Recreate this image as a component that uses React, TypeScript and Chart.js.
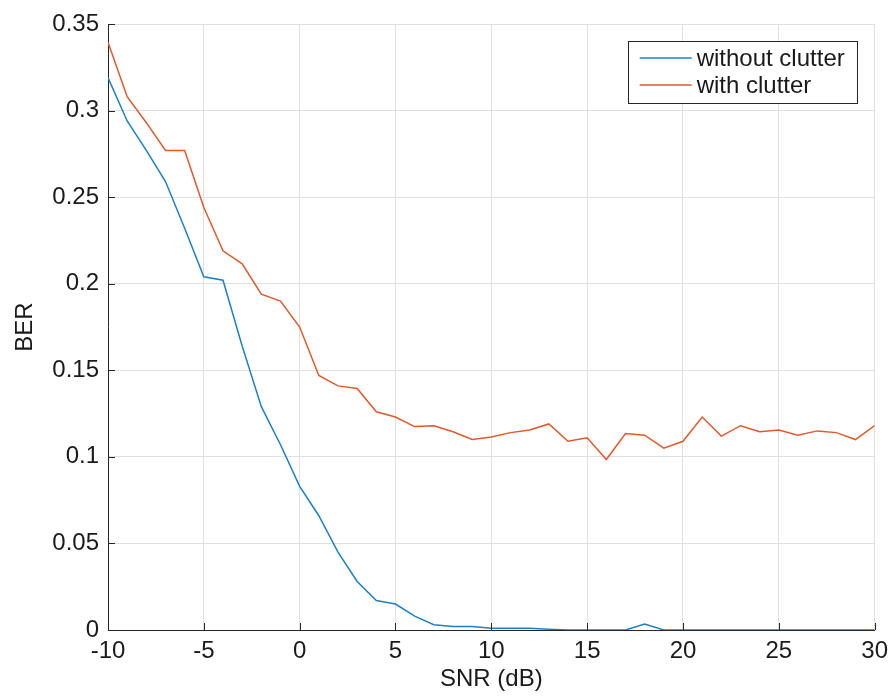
import { useEffect, useRef } from "react";
import { Chart, registerables } from "chart.js";

Chart.register(...registerables);

const snrDb = [
  -10, -9, -8, -7, -6, -5, -4, -3, -2, -1, 0, 1, 2, 3, 4, 5, 6, 7, 8, 9, 10,
  11, 12, 13, 14, 15, 16, 17, 18, 19, 20, 21, 22, 23, 24, 25, 26, 27, 28, 29, 30,
];

const berWithoutClutter = [
  0.319, 0.294, 0.277, 0.259, 0.232, 0.204, 0.202, 0.164, 0.129, 0.107, 0.083,
  0.066, 0.045, 0.028, 0.017, 0.015, 0.008, 0.003, 0.002, 0.002, 0.001,
  0.001, 0.001, 0.0005, 0, 0, 0, 0, 0.0035, 0, 0, 0, 0, 0, 0, 0, 0, 0, 0, 0, 0,
];

const berWithClutter = [
  0.3395, 0.308, 0.293, 0.277, 0.277, 0.244, 0.219, 0.2115, 0.194, 0.19, 0.175,
  0.147, 0.141, 0.1395, 0.126, 0.123, 0.1175, 0.118, 0.1145, 0.11, 0.1115,
  0.114, 0.1155, 0.119, 0.109, 0.111, 0.0985, 0.1135, 0.1125, 0.105, 0.109,
  0.123, 0.112, 0.118, 0.1145, 0.1155, 0.1125, 0.115, 0.114, 0.11, 0.118,
];

const seriesLabels = ["without clutter", "with clutter"];
const seriesColors = ["#1f7fc6", "#dc5a2c"];

const xTicks = [-10, -5, 0, 5, 10, 15, 20, 25, 30];
const yTicks = [0, 0.05, 0.1, 0.15, 0.2, 0.25, 0.3, 0.35];
const yTickLabels = ["0", "0.05", "0.1", "0.15", "0.2", "0.25", "0.3", "0.35"];

const xTitle = "SNR (dB)";
const yTitle = "BER";

const FONT = "'Liberation Sans', Arial, Helvetica, sans-serif";
const AXIS_COLOR = "#262626";

const inwardTicks = {
  id: "inwardTicks",
  afterDraw(chart: any) {
    const { ctx, chartArea: a, scales } = chart;
    const x = scales.x;
    const y = scales.y;
    ctx.save();
    ctx.strokeStyle = AXIS_COLOR;
    ctx.lineWidth = 1;
    ctx.beginPath();
    xTicks.forEach((v) => {
      const px = Math.round(x.getPixelForValue(v)) + 0.5;
      ctx.moveTo(px, a.bottom);
      ctx.lineTo(px, a.bottom - 7);
    });
    yTicks.forEach((v) => {
      const py = Math.round(y.getPixelForValue(v)) + 0.5;
      ctx.moveTo(a.left, py);
      ctx.lineTo(a.left + 7, py);
    });
    ctx.stroke();
    ctx.restore();
  },
};

const boxedLegend = {
  id: "boxedLegend",
  afterDraw(chart: any) {
    const { ctx, chartArea: a } = chart;
    const right = a.right - 18;
    const top = a.top + 17;
    const w = 229;
    const h = 62;
    const left = right - w;
    ctx.save();
    ctx.fillStyle = "#ffffff";
    ctx.fillRect(left, top, w, h);
    ctx.strokeStyle = AXIS_COLOR;
    ctx.lineWidth = 1;
    ctx.strokeRect(Math.round(left) + 0.5, Math.round(top) + 0.5, w, h);
    ctx.font = `24px ${FONT}`;
    ctx.textBaseline = "middle";
    ctx.textAlign = "left";
    chart.data.datasets.forEach((ds: any, i: number) => {
      const cy = top + 17 + i * 27;
      ctx.strokeStyle = ds.borderColor;
      ctx.lineWidth = 1.5;
      ctx.beginPath();
      ctx.moveTo(left + 12, cy);
      ctx.lineTo(left + 64, cy);
      ctx.stroke();
      ctx.fillStyle = "#1a1a1a";
      ctx.fillText(ds.label, left + 69, cy + 1);
    });
    ctx.restore();
  },
};

export default function App() {
  const ref = useRef<HTMLCanvasElement | null>(null);

  useEffect(() => {
    if (!ref.current) return;
    const mk = (vals: number[]) => snrDb.map((x, i) => ({ x, y: vals[i] }));
    const chart = new Chart(ref.current, {
      type: "line",
      data: {
        datasets: [
          {
            label: seriesLabels[0],
            data: mk(berWithoutClutter),
            borderColor: seriesColors[0],
            backgroundColor: seriesColors[0],
            borderWidth: 1.5,
            pointRadius: 0,
            tension: 0,
          },
          {
            label: seriesLabels[1],
            data: mk(berWithClutter),
            borderColor: seriesColors[1],
            backgroundColor: seriesColors[1],
            borderWidth: 1.5,
            pointRadius: 0,
            tension: 0,
          },
        ],
      },
      options: {
        responsive: false,
        animation: false,
        devicePixelRatio: 1,
        layout: { padding: { top: 24, right: 20, bottom: 0, left: 0 } },
        plugins: {
          legend: { display: false },
          tooltip: { enabled: false },
        },
        scales: {
          x: {
            type: "linear",
            min: -10,
            max: 30,
            afterBuildTicks: (s: any) => {
              s.ticks = xTicks.map((v) => ({ value: v }));
            },
            afterFit: (s: any) => {
              s.height = 68;
            },
            ticks: {
              font: { family: FONT, size: 24 },
              color: "#1a1a1a",
              padding: 7,
              maxRotation: 0,
              callback: (v: any) => String(v),
            },
            grid: { color: "#e0e0e0", lineWidth: 1, drawTicks: false },
            border: { display: true, color: AXIS_COLOR, width: 1 },
            title: {
              display: true,
              text: xTitle,
              font: { family: FONT, size: 24 },
              color: "#1a1a1a",
              padding: { top: 0, bottom: 4 },
            },
          },
          y: {
            type: "linear",
            min: 0,
            max: 0.35,
            afterBuildTicks: (s: any) => {
              s.ticks = yTicks.map((v) => ({ value: v }));
            },
            afterFit: (s: any) => {
              s.width = 108;
            },
            ticks: {
              font: { family: FONT, size: 24 },
              color: "#1a1a1a",
              padding: 9,
              callback: (v: any) => {
                const idx = yTicks.findIndex((t) => Math.abs(t - v) < 1e-9);
                return idx >= 0 ? yTickLabels[idx] : "";
              },
            },
            grid: { color: "#e0e0e0", lineWidth: 1, drawTicks: false },
            border: { display: true, color: AXIS_COLOR, width: 1 },
            title: {
              display: true,
              text: yTitle,
              font: { family: FONT, size: 24 },
              color: "#1a1a1a",
              padding: { top: 11, bottom: 0 },
            },
          },
        },
      },
      plugins: [inwardTicks, boxedLegend],
    } as any);
    return () => chart.destroy();
  }, []);

  return (
    <div style={{ position: "absolute", left: 0, top: 0, width: 895, height: 698, background: "#fff" }}>
      <canvas ref={ref} width={895} height={698} style={{ display: "block" }} />
    </div>
  );
}
